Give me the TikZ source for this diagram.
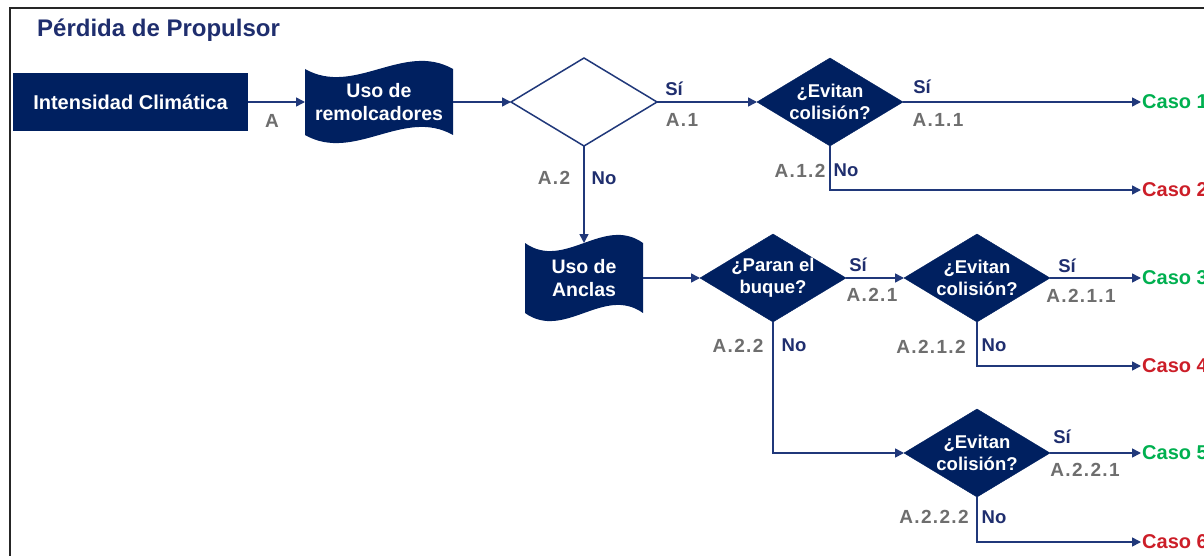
\documentclass[tikz,border=0pt]{standalone}
\usepackage{fontspec}
\setmainfont{Liberation Sans}
\newfontfamily\labfont[LetterSpace=7]{Liberation Sans}
\usetikzlibrary{arrows.meta,shapes.geometric,calc}
\pgfdeclarelayer{bg}
\pgfsetlayers{bg,main}
\definecolor{navyfill}{RGB}{0,32,96}
\definecolor{navyline}{RGB}{32,56,122}
\definecolor{navytext}{RGB}{31,46,110}
\definecolor{labgray}{RGB}{110,110,110}
\definecolor{casogreen}{RGB}{0,176,80}
\definecolor{casored}{RGB}{204,30,40}
\newcommand\tapefill[2]{%
  \begin{pgfonlayer}{bg}
  \fill[navyfill] (#1.north west)
    .. controls ($(#1.north west)!1/3!(#1.north east)+(0,#2)$) and ($(#1.north west)!2/3!(#1.north east)+(0,-#2)$) .. (#1.north east)
    -- (#1.south east)
    .. controls ($(#1.south west)!2/3!(#1.south east)+(0,-#2)$) and ($(#1.south west)!1/3!(#1.south east)+(0,#2)$) .. (#1.south west)
    -- cycle;
  \end{pgfonlayer}}
\begin{document}
\begin{tikzpicture}[x=1pt,y=-1pt,
  conn/.style={draw=navyline,line width=1.6pt,-{Triangle[length=9pt,width=9pt]}},
  dia/.style={shape=diamond,fill=navyfill,draw=navyfill,minimum width=146pt,minimum height=88pt,inner sep=0pt,outer sep=0pt},
  dtext/.style={text=white,font=\fontsize{18.5}{22}\selectfont\bfseries,align=center,inner sep=0pt},
  tapebox/.style={shape=rectangle,inner sep=0pt,outer sep=0pt,text=white,font=\fontsize{19.5}{23}\selectfont\bfseries,align=center},
  yes/.style={text=navytext,font=\fontsize{18.5}{20}\selectfont\bfseries,inner sep=0pt},
  code/.style={text=labgray,font=\labfont\fontsize{19}{20}\selectfont\bfseries,inner sep=0pt},
  caso/.style={font=\fontsize{20}{22}\selectfont\bfseries,inner sep=1pt,anchor=west},
]
\useasboundingbox (0,0) rectangle (1204,556);
\begin{pgfonlayer}{bg}
\fill[white] (0,0) rectangle (1204,556);
\end{pgfonlayer}
\draw[line width=2.5pt,black!85] (10,570) -- (10,8) -- (1220,8);

\node[anchor=west,text=navytext,font=\fontsize{24}{26}\selectfont\bfseries,inner sep=0pt] (title) at (37,30) {Pérdida de Propulsor};

\node[shape=rectangle,fill=navyfill,minimum width=235pt,minimum height=58pt,inner sep=0pt,text=white,font=\fontsize{20}{22}\selectfont\bfseries] (ic) at (130.5,102) {Intensidad Climática};

\node[tapebox,minimum width=148pt,minimum height=66pt] (rem) at (379,102) {Uso de\\remolcadores};
\tapefill{rem}{28}
\node[tapebox,minimum width=118pt,minimum height=70pt] (anc) at (584,278) {Uso de\\Anclas};
\tapefill{anc}{28}

\node[dia,fill=white,draw=navyline,line width=1.5pt] (d0) at (584,102) {};
\node[dia,label={[dtext]center:{¿Evitan\\colisión?}}] (e1) at (830,102) {};
\node[dia,label={[dtext]center:{¿Paran el\\buque?}}] (pa) at (773,278) {};
\node[dia,label={[dtext]center:{¿Evitan\\colisión?}}] (e2) at (977,278) {};
\node[dia,label={[dtext]center:{¿Evitan\\colisión?}}] (e3) at (977,453) {};

\node[caso,text=casogreen] (c1) at (1141,102) {Caso 1};
\node[caso,text=casored] (c2) at (1141,190) {Caso 2};
\node[caso,text=casogreen] (c3) at (1141,278) {Caso 3};
\node[caso,text=casored] (c4) at (1141,366) {Caso 4};
\node[caso,text=casogreen] (c5) at (1141,453) {Caso 5};
\node[caso,text=casored] (c6) at (1141,542) {Caso 6};

\draw[conn] (ic) -- (rem);
\draw[conn] (rem) -- (d0);
\draw[conn] (d0) -- (e1);
\draw[conn] (e1) -- (c1);
\draw[conn] (e1.south) |- (c2);
\draw[conn] (d0) -- (anc);
\draw[conn] (anc) -- (pa);
\draw[conn] (pa) -- (e2);
\draw[conn] (e2) -- (c3);
\draw[conn] (e2.south) |- (c4);
\draw[conn] (pa.south) |- (e3);
\draw[conn] (e3) -- (c5);
\draw[conn] (e3.south) |- (c6);

\node[code] (lA) at (272,121) {A};
\node[yes] (s1) at (674,89) {Sí};
\node[code] (lA1) at (682,120) {A.1};
\node[yes] (s11) at (922,87) {Sí};
\node[code] (lA11) at (938,120) {A.1.1};
\node[code] (lA12) at (800,171) {A.1.2};
\node[yes] (n12) at (846,170) {No};
\node[code] (lA2) at (554,178) {A.2};
\node[yes] (n2) at (604,178) {No};
\node[yes] (s21) at (858,265) {Sí};
\node[code] (lA21) at (872,295) {A.2.1};
\node[code] (lA22) at (738,346) {A.2.2};
\node[yes] (n22) at (794,345) {No};
\node[yes] (s211) at (1067,266) {Sí};
\node[code] (lA211) at (1081,296) {A.2.1.1};
\node[code] (lA212) at (931,347) {A.2.1.2};
\node[yes] (n212) at (994,345) {No};
\node[yes] (s221) at (1062,437) {Sí};
\node[code] (lA221) at (1085,470) {A.2.2.1};
\node[code] (lA222) at (934,517) {A.2.2.2};
\node[yes] (n222) at (994,517) {No};
\end{tikzpicture}
\end{document}
